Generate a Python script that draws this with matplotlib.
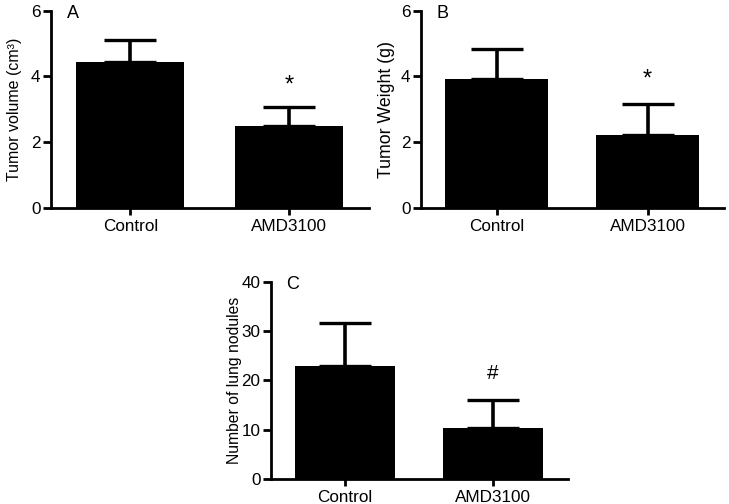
import numpy as np
import matplotlib
matplotlib.use("Agg")
import matplotlib.pyplot as plt

plt.rcParams['font.family'] = ['Liberation Sans', 'DejaVu Sans']

groups = ["Control", "AMD3100"]

volume_mean = [4.45, 2.49]
volume_sem = [0.66, 0.58]

weight_mean = [3.93, 2.23]
weight_sem = [0.90, 0.92]

nodules_mean = [23.0, 10.3]
nodules_sem = [8.6, 5.7]

marks = ["*", "*", "#"]
mark_y = [3.72, 3.92, 21.3]


def bar_panel(ax, means, sems, ylabel, yticks, ymax, letter, mark, my,
              label_x, label_size, mark_size):
    x = np.arange(len(groups))
    ax.bar(x, means, width=0.68, color="black", zorder=2)
    ax.errorbar(x, means, yerr=[np.zeros(len(sems)), sems], fmt="none",
                ecolor="black", elinewidth=2.6, capsize=19, capthick=2.4, zorder=1)
    ax.set_xlim(-0.5, 1.505)
    ax.set_ylim(0, ymax)
    ax.set_xticks(x)
    ax.set_xticklabels(groups, fontsize=12.3)
    ax.set_yticks(yticks)
    ax.tick_params(axis="y", labelsize=12.3, length=6, width=2.0, pad=1.5)
    ax.tick_params(axis="x", length=5, width=2.0, pad=3)
    ax.set_ylabel(ylabel, fontsize=label_size)
    ax.yaxis.set_label_coords(label_x, 0.5)
    for s in ["top", "right"]:
        ax.spines[s].set_visible(False)
    for s in ["left", "bottom"]:
        ax.spines[s].set_linewidth(2.0)
    ax.text(1, my, mark, ha="center", va="center", fontsize=mark_size)
    ax.text(0.05, 0.985, letter, transform=ax.transAxes, ha="left", va="center", fontsize=13)


fig = plt.figure(figsize=(7.29, 5.04), dpi=100)
axA = fig.add_axes([0.070, 0.587, 0.436, 0.392])
axB = fig.add_axes([0.5775, 0.587, 0.4155, 0.392])
axC = fig.add_axes([0.3717, 0.0496, 0.4073, 0.3914])

bar_panel(axA, volume_mean, volume_sem, "Tumor volume (cm\u00b3)", [0, 2, 4, 6], 6,
          "A", marks[0], mark_y[0], -0.09, 11.5, 17)
bar_panel(axB, weight_mean, weight_sem, "Tumor Weight (g)", [0, 2, 4, 6], 6,
          "B", marks[1], mark_y[1], -0.087, 12.8, 17)
bar_panel(axC, nodules_mean, nodules_sem, "Number of lung nodules", [0, 10, 20, 30, 40], 40,
          "C", marks[2], mark_y[2], -0.099, 11.3, 15)

fig.savefig("out.png", dpi=100)
